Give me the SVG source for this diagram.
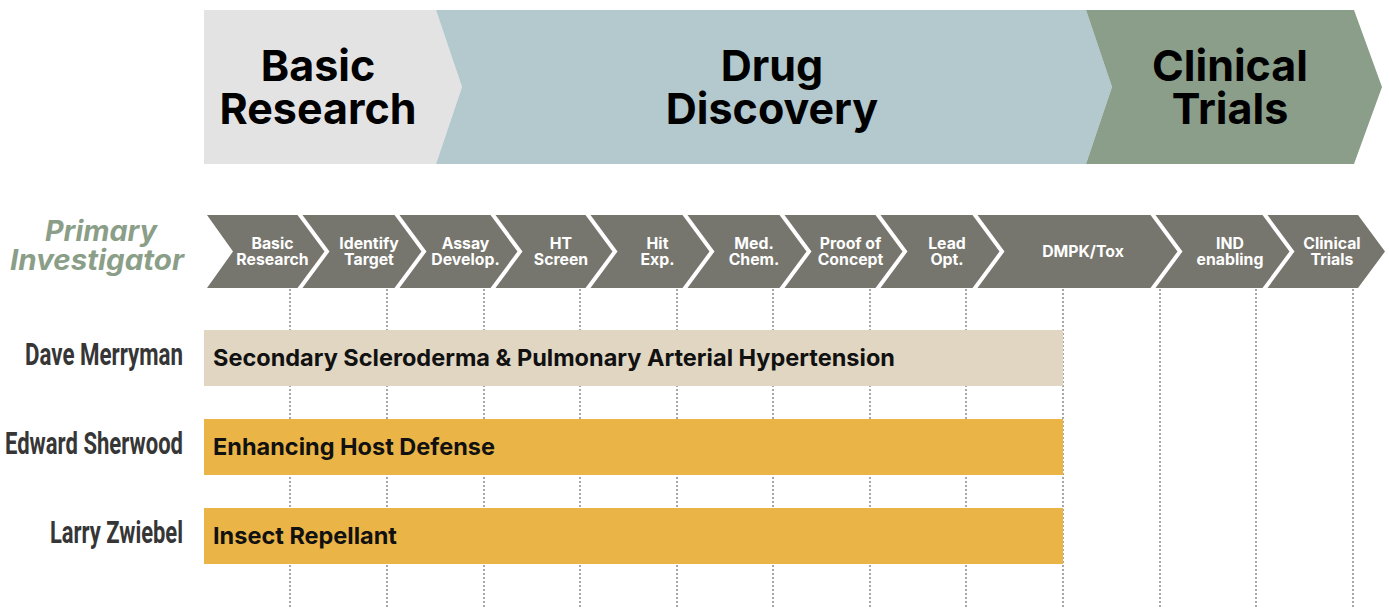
<svg xmlns="http://www.w3.org/2000/svg" width="1389" height="608" viewBox="0 0 1389 608">
<style>
.title{font-family:Inter,"Liberation Sans",sans-serif;font-weight:700;font-size:43px;fill:#000;text-anchor:middle}
.chev{fill:#77766e}
.ct{font-family:Inter,"Liberation Sans",sans-serif;font-weight:700;font-size:15.8px;fill:#fff;text-anchor:middle}
.name{font-family:Roboto,"Liberation Sans",sans-serif;font-weight:700;font-size:31px;fill:#363636;text-anchor:end}
.bt{font-family:Inter,"Liberation Sans",sans-serif;font-weight:700;font-size:23.5px;fill:#111}
.grid{stroke:#8a8a8a;stroke-width:1.5;stroke-dasharray:2 2;fill:none}
.pi{font-family:Inter,"Liberation Sans",sans-serif;font-weight:700;font-style:italic;font-size:28px;fill:#8a9e88;text-anchor:middle}
</style>
<rect width="1389" height="608" fill="#fff"/>
<g id="phase-basic">
<polygon points="204,10 436,10 462,87 436,164 204,164" fill="#e3e3e3"/>
<text class="title" x="318" y="81">Basic</text>
<text class="title" x="318" y="124">Research</text>
</g>
<g id="phase-drug">
<polygon points="436,10 1086,10 1112,87 1086,164 436,164 462,87" fill="#b3c9cd"/>
<text class="title" x="772" y="81">Drug</text>
<text class="title" x="772" y="124">Discovery</text>
</g>
<g id="phase-clinical">
<polygon points="1086,10 1354,10 1382,87 1354,164 1086,164 1112,87" fill="#8a9e8a"/>
<text class="title" x="1230" y="81">Clinical</text>
<text class="title" x="1230" y="124">Trials</text>
</g>
<g id="pi-label">
<text class="pi" x="101" y="241" textLength="112" lengthAdjust="spacingAndGlyphs">Primary</text>
<text class="pi" x="97" y="270" textLength="174" lengthAdjust="spacingAndGlyphs">Investigator</text>
</g>
<g id="connectors">
<path class="grid" d="M290 289V608M387 289V608M484 289V608M580 289V608M677 289V608M773 289V608M870 289V608M966 289V608M1063 289V608M1160 289V608M1256 289V608M1353 289V608"/>
</g>
<g id="stage-1"><polygon class="chev" points="207,215 297.5,215 324.5,251.5 297.5,288 207,288 233,251.5"/><text class="ct" x="272.5" y="249">Basic</text><text class="ct" x="272.5" y="265">Research</text></g>
<g id="stage-2"><polygon class="chev" points="302.5,215 394.5,215 421.5,251.5 394.5,288 302.5,288 329.5,251.5"/><text class="ct" x="369" y="249">Identify</text><text class="ct" x="369" y="265">Target</text></g>
<g id="stage-3"><polygon class="chev" points="399.5,215 490.5,215 517.5,251.5 490.5,288 399.5,288 426.5,251.5"/><text class="ct" x="465.5" y="249">Assay</text><text class="ct" x="465.5" y="265">Develop.</text></g>
<g id="stage-4"><polygon class="chev" points="495.5,215 585.5,215 612.5,251.5 585.5,288 495.5,288 522.5,251.5"/><text class="ct" x="561" y="249">HT</text><text class="ct" x="561" y="265">Screen</text></g>
<g id="stage-5"><polygon class="chev" points="590.5,215 682.5,215 709.5,251.5 682.5,288 590.5,288 617.5,251.5"/><text class="ct" x="657.5" y="249">Hit</text><text class="ct" x="657.5" y="265">Exp.</text></g>
<g id="stage-6"><polygon class="chev" points="687.5,215 779.5,215 806.5,251.5 779.5,288 687.5,288 714.5,251.5"/><text class="ct" x="754" y="249">Med.</text><text class="ct" x="754" y="265">Chem.</text></g>
<g id="stage-7"><polygon class="chev" points="784.5,215 875.5,215 902.5,251.5 875.5,288 784.5,288 811.5,251.5"/><text class="ct" x="850.5" y="249">Proof of</text><text class="ct" x="850.5" y="265">Concept</text></g>
<g id="stage-8"><polygon class="chev" points="880.5,215 972.5,215 999.5,251.5 972.5,288 880.5,288 907.5,251.5"/><text class="ct" x="947" y="249">Lead</text><text class="ct" x="947" y="265">Opt.</text></g>
<g id="stage-9"><polygon class="chev" points="977.5,215 1150.5,215 1177.5,251.5 1150.5,288 977.5,288 1004.5,251.5"/><text class="ct" x="1083" y="257">DMPK/Tox</text></g>
<g id="stage-10"><polygon class="chev" points="1155.5,215 1262.5,215 1289.5,251.5 1262.5,288 1155.5,288 1182.5,251.5"/><text class="ct" x="1230" y="249">IND</text><text class="ct" x="1230" y="265">enabling</text></g>
<g id="stage-11"><polygon class="chev" points="1267.5,215 1358,215 1385,251.5 1358,288 1267.5,288 1294.5,251.5"/><text class="ct" x="1332" y="249">Clinical</text><text class="ct" x="1332" y="265">Trials</text></g>
<g id="row-merryman">
<text class="name" x="183" y="365" textLength="158" lengthAdjust="spacingAndGlyphs">Dave Merryman</text>
<rect x="204" y="330" width="859" height="56" fill="#e0d6c2"/>
<text class="bt" x="213" y="366">Secondary Scleroderma &amp; Pulmonary Arterial Hypertension</text>
</g>
<g id="row-sherwood">
<text class="name" x="183" y="454" textLength="178" lengthAdjust="spacingAndGlyphs">Edward Sherwood</text>
<rect x="204" y="419" width="859" height="56" fill="#ebb446"/>
<text class="bt" x="213" y="455">Enhancing Host Defense</text>
</g>
<g id="row-zwiebel">
<text class="name" x="183" y="543" textLength="133" lengthAdjust="spacingAndGlyphs">Larry Zwiebel</text>
<rect x="204" y="508" width="859" height="56" fill="#ebb446"/>
<text class="bt" x="213" y="544">Insect Repellant</text>
</g>
</svg>
